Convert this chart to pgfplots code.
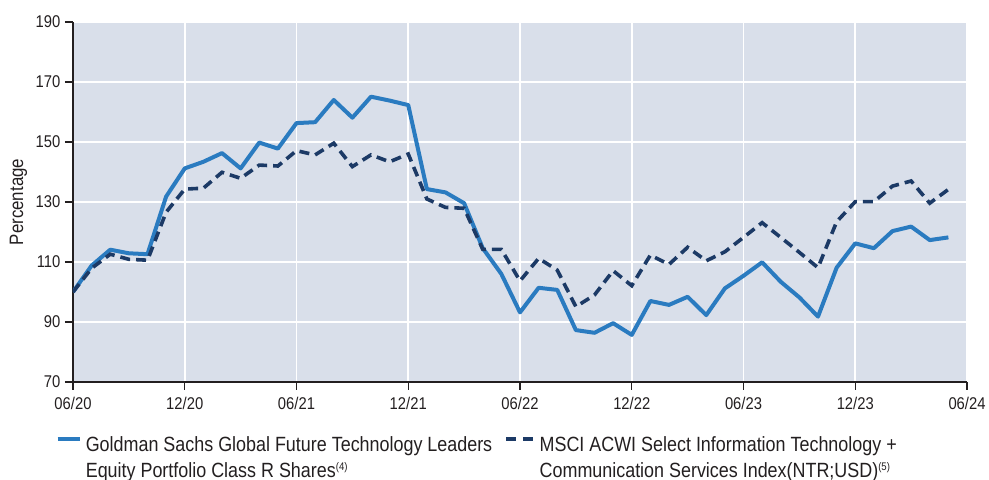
\documentclass[border=0pt]{standalone}
\usepackage{fontspec}
\setmainfont{Liberation Sans}[FakeStretch=0.87]
\usepackage{pgfplots}
\usepackage{pgfplotstable}
\pgfplotsset{compat=1.18}
\definecolor{bg}{HTML}{D9DFEA}
\definecolor{fund}{HTML}{2A7BC0}
\definecolor{idx}{HTML}{1C3A66}
\definecolor{txt}{HTML}{231F20}
\pgfplotstableread{
m v
0 100
1 108.8
2 114.1
3 112.9
4 112.6
5 131.8
6 141.2
7 143.4
8 146.3
9 141.2
10 149.8
11 147.8
12 156.3
13 156.6
14 164.0
15 158.1
16 165.1
17 163.8
18 162.3
19 134.3
20 133.2
21 129.6
22 114.6
23 106.0
24 93.2
25 101.4
26 100.7
27 87.3
28 86.4
29 89.6
30 85.7
31 97.0
32 95.7
33 98.4
34 92.3
35 101.2
36 105.4
37 109.9
38 103.4
39 98.2
40 91.8
41 108.1
42 116.2
43 114.6
44 120.3
45 121.8
46 117.3
47 118.2
}\fundtab
\pgfplotstableread{
m v
0 100
1 107.9
2 112.6
3 110.9
4 110.6
5 126.6
6 134.3
7 134.6
8 139.9
9 137.9
10 142.3
11 142.0
12 147.1
13 145.7
14 149.6
15 141.8
16 145.7
17 143.4
18 146.0
19 131.0
20 128.2
21 127.9
22 114.2
23 114.2
24 103.7
25 111.2
26 107.3
27 95.1
28 99.0
29 107.1
30 102.1
31 112.3
32 109.2
33 114.9
34 110.4
35 113.4
36 118.2
37 123.1
38 118.2
39 113.2
40 108.1
41 123.4
42 130.1
43 130.1
44 135.3
45 137.0
46 129.6
47 134.2
}\idxtab
\newcommand{\sps}[1]{\textsuperscript{\fontsize{5.5}{6}\selectfont(#1)}}
\begin{document}
\begin{tikzpicture}
\begin{axis}[
  name=ax,
  scale only axis, width=447pt, height=180pt,
  xmin=0, xmax=48, ymin=70, ymax=190,
  axis background/.style={fill=bg},
  axis x line*=bottom, axis y line*=left,
  axis line style={txt, line width=0.6pt},
  tick align=outside, major tick length=4pt,
  tick style={txt, line width=0.6pt},
  xtick={0,6,...,48},
  xticklabels={06/20,12/20,06/21,12/21,06/22,12/22,06/23,12/23,06/24},
  ytick={70,90,...,190},
  grid=major, grid style={white, line width=0.8pt},
  /pgf/number format/assume math mode=true,
  tick label style={font=\fontsize{8.5}{10}\selectfont, text=txt},
  yticklabel style={xshift=1.2pt},
  ylabel={Percentage},
  ylabel style={font=\fontsize{9.7}{11}\selectfont, text=txt, at={(axis description cs:-0.061,0.5)}, anchor=center},
  legend columns=2,
  legend cell align=left,
  legend style={draw=none, fill=none, at={(axis description cs:0,0)}, anchor=north west,
    xshift=-12pt, yshift=-23pt,
    font=\fontsize{10.3}{13}\selectfont, text=txt,
    nodes={align=left, anchor=west},
    /tikz/every even column/.append style={column sep=4pt}},
]
\addplot[fund, line width=2pt, line join=round,
  legend image code/.code={\draw[fund, line width=2.2pt] (0pt,9.7pt) -- (11pt,9.7pt);}]
  table[x=m,y=v]{\fundtab};
\addlegendentry{Goldman Sachs Global Future Technology Leaders\\Equity Portfolio Class R Shares\sps{4}}
\addplot[idx, line width=1.8pt, dash pattern=on 5pt off 3pt,
  legend image code/.code={\draw[idx, line width=2.2pt, dash pattern=on 5pt off 3.5pt] (0pt,9.7pt) -- (13.5pt,9.7pt);}]
  table[x=m,y=v]{\idxtab};
\addlegendentry{MSCI ACWI Select Information Technology +\\Communication Services Index(NTR;USD)\sps{5}}
\end{axis}
\pgfresetboundingbox
\path[use as bounding box] ([shift={(-36.5pt,-49pt)}]ax.south west) rectangle ([shift={(11pt,11pt)}]ax.north east);
\end{tikzpicture}
\end{document}
